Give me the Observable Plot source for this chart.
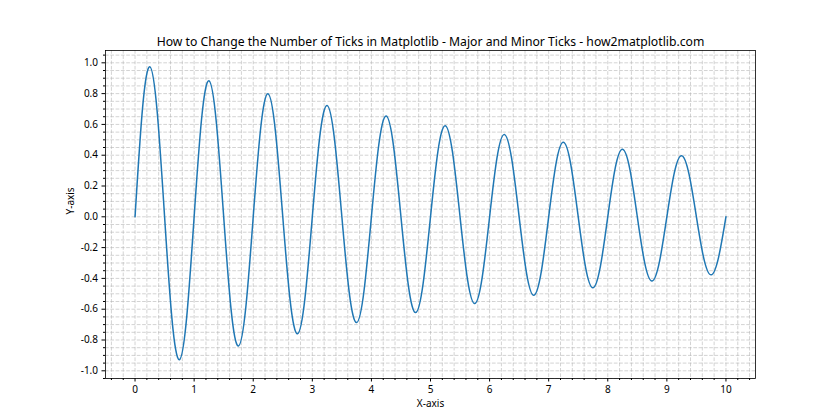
<!DOCTYPE html>
<html>
<head>
<meta charset="utf-8">
<script src="https://cdn.jsdelivr.net/npm/d3@7"></script>
<script src="https://cdn.jsdelivr.net/npm/@observablehq/plot@0.6"></script>
<style>
  body { margin: 0; background: #fff; }
  svg { font-family: "Noto Sans", "DejaVu Sans", sans-serif; }
</style>
</head>
<body>
<div id="chart"></div>
<script>
const title = "How to Change the Number of Ticks in Matplotlib - Major and Minor Ticks - how2matplotlib.com";
const xLabel = "X-axis";
const yLabel = "Y-axis";

const xValues = [
  0, 0.125, 0.25, 0.375, 0.5, 0.625, 0.75, 0.875,
  1, 1.125, 1.25, 1.375, 1.5, 1.625, 1.75, 1.875,
  2, 2.125, 2.25, 2.375, 2.5, 2.625, 2.75, 2.875,
  3, 3.125, 3.25, 3.375, 3.5, 3.625, 3.75, 3.875,
  4, 4.125, 4.25, 4.375, 4.5, 4.625, 4.75, 4.875,
  5, 5.125, 5.25, 5.375, 5.5, 5.625, 5.75, 5.875,
  6, 6.125, 6.25, 6.375, 6.5, 6.625, 6.75, 6.875,
  7, 7.125, 7.25, 7.375, 7.5, 7.625, 7.75, 7.875,
  8, 8.125, 8.25, 8.375, 8.5, 8.625, 8.75, 8.875,
  9, 9.125, 9.25, 9.375, 9.5, 9.625, 9.75, 9.875,
  10
];
const yValues = [
  0, 0.698, 0.975, 0.681, 0, -0.664, -0.928, -0.648,
  0, 0.632, 0.883, 0.616, 0, -0.601, -0.839, -0.586,
  0, 0.572, 0.799, 0.558, 0, -0.544, -0.760, -0.530,
  0, 0.517, 0.723, 0.505, 0, -0.492, -0.687, -0.480,
  0, 0.468, 0.654, 0.457, 0, -0.445, -0.622, -0.434,
  0, 0.424, 0.592, 0.413, 0, -0.403, -0.563, -0.393,
  0, 0.383, 0.535, 0.374, 0, -0.365, -0.509, -0.356,
  0, 0.347, 0.484, 0.338, 0, -0.330, -0.461, -0.322,
  0, 0.314, 0.438, 0.306, 0, -0.299, -0.417, -0.291,
  0, 0.284, 0.397, 0.277, 0, -0.270, -0.377, -0.263,
  0
];

const xMajorTicks = [0, 1, 2, 3, 4, 5, 6, 7, 8, 9, 10];
const xMinorTicks = [-0.4, -0.2, 0.2, 0.4, 0.6, 0.8, 1.2, 1.4, 1.6, 1.8, 2.2, 2.4, 2.6, 2.8,
  3.2, 3.4, 3.6, 3.8, 4.2, 4.4, 4.6, 4.8, 5.2, 5.4, 5.6, 5.8, 6.2, 6.4, 6.6, 6.8,
  7.2, 7.4, 7.6, 7.8, 8.2, 8.4, 8.6, 8.8, 9.2, 9.4, 9.6, 9.8, 10.2, 10.4];
const yMajorTicks = [-1.0, -0.8, -0.6, -0.4, -0.2, 0.0, 0.2, 0.4, 0.6, 0.8, 1.0];
const yMinorTicks = [-1.05, -0.95, -0.9, -0.85, -0.75, -0.7, -0.65, -0.55, -0.5, -0.45,
  -0.35, -0.3, -0.25, -0.15, -0.1, -0.05, 0.05, 0.1, 0.15, 0.25, 0.3, 0.35,
  0.45, 0.5, 0.55, 0.65, 0.7, 0.75, 0.85, 0.9, 0.95, 1.05];

const data = xValues.map((x, i) => ({x, y: yValues[i]}));
const gridStyle = {stroke: "#b0b0b0", strokeOpacity: 0.7, strokeDasharray: "3.7,1.6", strokeWidth: 0.8};
const fmt = (d) => d3.format(".1f")(d).replace("\u2212", "-");

const chart = Plot.plot({
  width: 840,
  height: 420,
  marginLeft: 105,
  marginRight: 85,
  marginTop: 50,
  marginBottom: 42,
  style: {fontSize: "10px", fontFamily: "'Noto Sans', 'DejaVu Sans', sans-serif", color: "#000", background: "#fff"},
  x: {domain: [-0.5, 10.5]},
  y: {domain: [-1.05, 1.08]},
  marks: [
    Plot.gridX(xMajorTicks.concat(xMinorTicks), gridStyle),
    Plot.gridY(yMajorTicks.concat(yMinorTicks), gridStyle),
    Plot.axisX(xMinorTicks, {tickSize: 2, tickFormat: () => "", label: null}),
    Plot.axisY(yMinorTicks, {tickSize: 2, tickFormat: () => "", label: null}),
    Plot.axisX(xMajorTicks, {tickSize: 3.5, tickPadding: 4, tickFormat: d3.format("d"), label: null, fontSize: 10}),
    Plot.axisY(yMajorTicks, {tickSize: 3.5, tickPadding: 4, tickFormat: fmt, label: null, fontSize: 10}),
    Plot.line(data, {x: "x", y: "y", curve: "natural", stroke: "#1f77b4", strokeWidth: 1.5}),
    Plot.frame({stroke: "#000", strokeWidth: 0.8}),
    Plot.text([title], {frameAnchor: "top", dy: -13, fontSize: 12.2, textAnchor: "middle"}),
    Plot.text([xLabel], {frameAnchor: "bottom", dy: 28, fontSize: 10}),
    Plot.text([yLabel], {frameAnchor: "left", dx: -35, rotate: -90, fontSize: 10})
  ]
});
document.getElementById("chart").appendChild(chart);
</script>
</body>
</html>
